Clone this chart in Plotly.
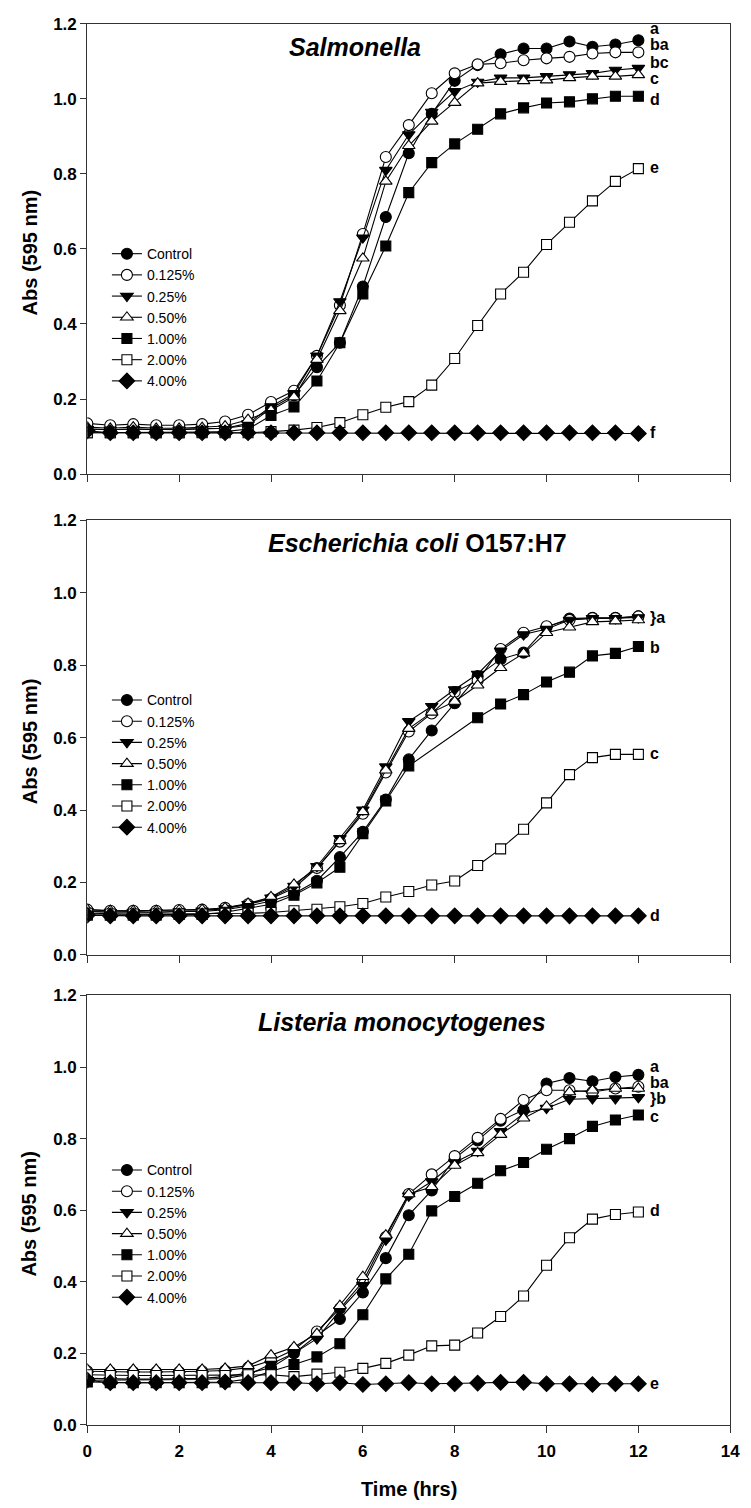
import plotly.graph_objects as go

W, H = 751, 1508

time_hrs = [i * 0.5 for i in range(25)]
series_names = ["Control", "0.125%", "0.25%", "0.50%", "1.00%", "2.00%", "4.00%"]

# Salmonella
sal_control = [0.120,0.118,0.120,0.118,0.120,0.120,0.122,0.130,0.175,0.210,0.285,0.350,0.500,0.685,0.855,0.960,1.048,1.090,1.119,1.134,1.134,1.153,1.139,1.145,1.156]
sal_0125 = [0.135,0.130,0.133,0.130,0.130,0.133,0.140,0.158,0.192,0.222,0.315,0.450,0.640,0.845,0.930,1.015,1.068,1.092,1.095,1.103,1.108,1.112,1.121,1.124,1.124]
sal_025 = [0.120,0.118,0.120,0.118,0.118,0.120,0.122,0.135,0.180,0.215,0.315,0.460,0.630,0.810,0.905,0.965,1.020,1.045,1.056,1.056,1.060,1.065,1.068,1.077,1.082]
sal_050 = [0.125,0.122,0.125,0.122,0.122,0.124,0.128,0.145,0.170,0.205,0.305,0.435,0.575,0.780,0.875,0.940,0.990,1.042,1.046,1.048,1.050,1.056,1.060,1.060,1.064]
sal_100 = [0.110,0.110,0.110,0.110,0.110,0.112,0.113,0.120,0.156,0.179,0.248,0.350,0.480,0.608,0.750,0.830,0.880,0.919,0.960,0.976,0.989,0.992,1.000,1.007,1.007]
sal_200 = [0.110,0.110,0.110,0.110,0.110,0.110,0.110,0.110,0.113,0.117,0.124,0.137,0.158,0.178,0.193,0.237,0.308,0.396,0.480,0.538,0.612,0.671,0.728,0.780,0.814]
sal_400 = [0.115,0.110,0.110,0.110,0.110,0.110,0.110,0.110,0.110,0.110,0.110,0.110,0.110,0.110,0.110,0.110,0.110,0.110,0.110,0.110,0.110,0.110,0.110,0.110,0.108]
sal_letters = ["a", "ba", "bc", "c", "d", "e", "f"]
sal_letter_y = [1.188, 1.145, 1.098, 1.053, 0.997, 0.816, 0.110]

# Escherichia coli O157:H7
ec_control = [0.120,0.118,0.120,0.118,0.120,0.120,0.125,0.135,0.149,0.169,0.205,0.270,0.340,0.429,0.540,0.620,0.695,0.770,0.817,0.835,0.905,0.929,0.931,0.931,0.935]
ec_0125 = [0.125,0.122,0.122,0.122,0.124,0.125,0.130,0.140,0.155,0.185,0.240,0.313,0.390,0.504,0.617,0.667,0.726,0.758,0.845,0.890,0.908,0.925,0.930,0.930,0.935]
ec_025 = [0.120,0.118,0.118,0.118,0.120,0.122,0.128,0.140,0.158,0.190,0.245,0.322,0.401,0.520,0.645,0.687,0.733,0.776,0.840,0.885,0.900,0.925,0.930,0.930,0.932]
ec_050 = [0.125,0.122,0.122,0.122,0.124,0.125,0.130,0.142,0.160,0.195,0.240,0.315,0.395,0.510,0.625,0.670,0.700,0.745,0.793,0.833,0.890,0.905,0.920,0.922,0.925]
ec_100 = [0.110,0.110,0.110,0.110,0.112,0.112,0.118,0.128,0.140,0.165,0.199,0.242,0.335,0.425,0.522,None,None,0.655,0.693,0.719,0.754,0.781,0.826,0.833,0.852]
ec_200 = [0.115,0.113,0.113,0.113,0.113,0.113,0.115,0.115,0.117,0.122,0.126,0.133,0.142,0.160,0.175,0.193,0.204,0.247,0.293,0.347,0.420,0.498,0.545,0.554,0.554]
ec_400 = [0.110,0.108,0.108,0.108,0.108,0.108,0.108,0.108,0.108,0.108,0.108,0.108,0.108,0.108,0.108,0.108,0.108,0.108,0.108,0.108,0.108,0.108,0.108,0.108,0.108]
ec_letters = ["}a", "b", "c", "d"]
ec_letter_y = [0.932, 0.849, 0.555, 0.108]

# Listeria monocytogenes
li_control = [0.130,0.128,0.128,0.128,0.128,0.130,0.135,0.145,0.160,0.200,0.250,0.296,0.370,0.466,0.586,0.655,0.745,0.795,0.850,0.880,0.954,0.969,0.960,0.972,0.978]
li_0125 = [0.150,0.148,0.148,0.148,0.148,0.150,0.152,0.160,0.180,0.210,0.261,0.325,0.400,0.525,0.645,0.700,0.751,0.802,0.855,0.908,0.935,0.935,0.930,0.940,0.945]
li_025 = [0.125,0.125,0.125,0.125,0.125,0.127,0.130,0.140,0.170,0.200,0.241,0.320,0.390,0.517,0.640,0.680,0.733,0.765,0.820,0.870,0.885,0.910,0.912,0.912,0.915]
li_050 = [0.155,0.155,0.155,0.155,0.155,0.155,0.158,0.165,0.195,0.218,0.255,0.333,0.414,0.530,0.645,0.665,0.725,0.760,0.811,0.857,0.890,0.930,0.935,0.940,0.940]
li_100 = [0.120,0.118,0.118,0.118,0.118,0.118,0.120,0.128,0.150,0.169,0.190,0.227,0.308,0.408,0.477,0.598,0.638,0.675,0.710,0.733,0.770,0.800,0.834,0.852,0.866]
li_200 = [0.140,0.138,0.138,0.138,0.138,0.138,0.138,0.140,0.140,0.135,0.142,0.147,0.158,0.172,0.195,0.221,0.223,0.257,0.303,0.360,0.446,0.523,0.575,0.588,0.595]
li_400 = [0.125,0.118,0.118,0.118,0.118,0.118,0.120,0.118,0.118,0.118,0.115,0.118,0.113,0.115,0.118,0.115,0.115,0.117,0.119,0.119,0.115,0.115,0.113,0.115,0.115]
li_letters = ["a", "ba", "}b", "c", "d", "e"]
li_letter_y = [1.002, 0.957, 0.912, 0.862, 0.600, 0.115]

panel_titles = ["<b><i>Salmonella</i></b>",
                "<b><i>Escherichia coli</i> O157:H7</b>",
                "<b><i>Listeria monocytogenes</i></b>"]

y_ticks = [0.0, 0.2, 0.4, 0.6, 0.8, 1.0, 1.2]
x_ticks = [0, 2, 4, 6, 8, 10, 12, 14]

# styles
symbols = ["circle", "circle", "triangle-down", "triangle-up", "square", "square", "diamond"]
fills = ["black", "white", "black", "white", "black", "white", "black"]
sizes = [11, 11, 11, 11, 10, 10, 12]

FONT = "Arial, 'Liberation Sans', sans-serif"

# panel geometry in pixels (top, bottom)
panels_px = [(15, 471), (518, 958), (999, 1434)]
x_left, x_right = 84, 740

def py(v):
    return 1 - v / H

data_sets = [
    [sal_control, sal_0125, sal_025, sal_050, sal_100, sal_200, sal_400],
    [ec_control, ec_0125, ec_025, ec_050, ec_100, ec_200, ec_400],
    [li_control, li_0125, li_025, li_050, li_100, li_200, li_400],
]
letters = [(sal_letters, sal_letter_y), (ec_letters, ec_letter_y), (li_letters, li_letter_y)]
title_x_px = [357, 421, 405]
title_y_px = [38, 541, 1026]
legend_top_px = [232, 684, 1160]

fig = go.Figure()
layout = dict(
    width=W, height=H,
    margin=dict(l=0, r=0, t=0, b=0),
    paper_bgcolor="white", plot_bgcolor="white",
    font=dict(family=FONT, color="black"),
    showlegend=True,
)
annotations = []

for p in range(3):
    sfx = "" if p == 0 else str(p + 1)
    xa = "x" + sfx
    ya = "y" + sfx
    leg = "legend" + sfx
    for s in range(7):
        fig.add_trace(go.Scatter(
            x=time_hrs, y=data_sets[p][s], name=series_names[s],
            xaxis=xa, yaxis=ya, legend=leg,
            mode="lines+markers", connectgaps=True,
            line=dict(color="black", width=1.1),
            marker=dict(symbol=symbols[s], color=fills[s], size=sizes[s],
                        line=dict(color="black", width=1.1)),
        ))
    top, bot = panels_px[p]
    layout["xaxis" + sfx] = dict(
        domain=[x_left / W, x_right / W], range=[0, 14], anchor=ya,
        tickvals=x_ticks, ticks="outside", ticklen=7, tickwidth=1.2, tickcolor="#333",
        showticklabels=(p == 2), showgrid=False, zeroline=False,
        showline=True, mirror=True, linecolor="#333", linewidth=1.3,
        ticklabelstandoff=4,
        tickfont=dict(family=FONT, size=17, color="black", weight="bold"),
    )
    layout["yaxis" + sfx] = dict(
        domain=[py(bot), py(top)], range=[0, 1.2], anchor=xa,
        tickvals=y_ticks, tickformat=".1f", ticks="outside", ticklen=6, tickwidth=1.2,
        tickcolor="#333", showgrid=False, zeroline=False,
        showline=True, mirror=True, linecolor="#333", linewidth=1.3,
        tickfont=dict(family=FONT, size=17, color="black", weight="bold"),
    )
    layout[leg] = dict(
        x=104 / W, y=py(legend_top_px[p]), xanchor="left", yanchor="top",
        bgcolor="rgba(0,0,0,0)", borderwidth=0, tracegroupgap=0,
        font=dict(family=FONT, size=14, color="black"), itemwidth=30,
    )
    # y title
    annotations.append(dict(
        text="<b>Abs (595 nm)</b>", xref="paper", yref="paper",
        x=25 / W, y=py((top + bot) / 2 + 4), textangle=-90, showarrow=False,
        font=dict(family=FONT, size=20, color="black"), xanchor="center", yanchor="middle",
    ))
    # panel title
    annotations.append(dict(
        text=panel_titles[p], xref="paper", yref="paper",
        x=title_x_px[p] / W, y=py(title_y_px[p]), showarrow=False,
        font=dict(family=FONT, size=25, color="black"), xanchor="center", yanchor="middle",
    ))
    for txt, yv in zip(*letters[p]):
        annotations.append(dict(
            text="<b>" + txt + "</b>", xref=xa, yref=ya, x=12.2, y=yv,
            showarrow=False, xanchor="left", yanchor="middle",
            font=dict(family=FONT, size=16, color="black"),
        ))

annotations.append(dict(
    text="<b>Time (hrs)</b>", xref="paper", yref="paper",
    x=(x_left + x_right) / 2 / W, y=py(1499), showarrow=False,
    font=dict(family=FONT, size=20, color="black"), xanchor="center", yanchor="middle",
))
layout["annotations"] = annotations
fig.update_layout(**layout)
fig.write_html("out.html")
